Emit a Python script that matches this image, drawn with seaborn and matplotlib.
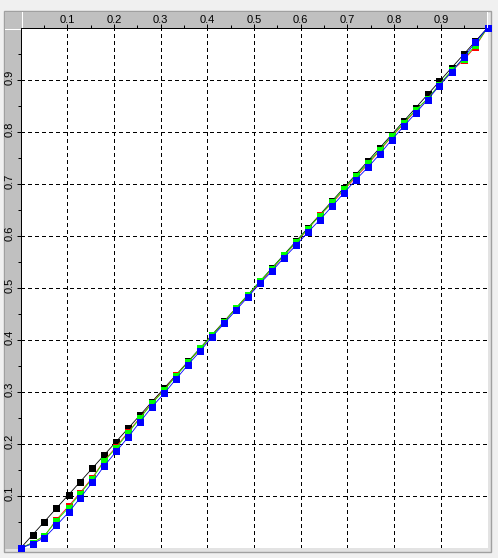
import matplotlib
matplotlib.use("Agg")
import matplotlib.pyplot as plt
import matplotlib.transforms as mtransforms
from matplotlib.patches import Rectangle
from matplotlib.lines import Line2D
import seaborn as sns

# sample positions (40 points, 0..1)
x_vals = [0.000, 0.026, 0.051, 0.077, 0.103, 0.128, 0.154, 0.179, 0.205, 0.231,
          0.256, 0.282, 0.308, 0.333, 0.359, 0.385, 0.410, 0.436, 0.462, 0.487,
          0.513, 0.538, 0.564, 0.590, 0.615, 0.641, 0.667, 0.692, 0.718, 0.744,
          0.769, 0.795, 0.821, 0.846, 0.872, 0.897, 0.923, 0.949, 0.974, 1.000]

# black curve - sits on the diagonal
black_vals = [0.000, 0.026, 0.051, 0.077, 0.103, 0.128, 0.154, 0.179, 0.205, 0.231,
              0.256, 0.282, 0.308, 0.333, 0.359, 0.385, 0.410, 0.436, 0.462, 0.487,
              0.513, 0.538, 0.564, 0.590, 0.615, 0.641, 0.667, 0.692, 0.718, 0.744,
              0.769, 0.795, 0.821, 0.846, 0.872, 0.897, 0.923, 0.949, 0.974, 1.000]

red_vals = [0.000, 0.011, 0.023, 0.055, 0.081, 0.107, 0.136, 0.168, 0.195, 0.224,
            0.251, 0.280, 0.305, 0.332, 0.358, 0.383, 0.409, 0.435, 0.462, 0.485,
            0.511, 0.536, 0.562, 0.587, 0.613, 0.640, 0.663, 0.688, 0.713, 0.738,
            0.764, 0.791, 0.816, 0.841, 0.864, 0.890, 0.917, 0.938, 0.964, 1.000]

green_vals = [0.000, 0.011, 0.024, 0.053, 0.078, 0.105, 0.134, 0.167, 0.193, 0.222,
              0.250, 0.279, 0.304, 0.331, 0.358, 0.384, 0.409, 0.435, 0.462, 0.487,
              0.513, 0.537, 0.563, 0.588, 0.614, 0.639, 0.665, 0.690, 0.716, 0.740,
              0.766, 0.792, 0.818, 0.842, 0.864, 0.891, 0.918, 0.941, 0.966, 1.000]

blue_vals = [0.000, 0.009, 0.020, 0.044, 0.069, 0.097, 0.127, 0.158, 0.186, 0.214,
             0.243, 0.272, 0.298, 0.325, 0.353, 0.379, 0.406, 0.432, 0.458, 0.483,
             0.509, 0.532, 0.558, 0.582, 0.607, 0.631, 0.657, 0.682, 0.708, 0.732,
             0.757, 0.785, 0.811, 0.836, 0.862, 0.889, 0.915, 0.943, 0.972, 1.000]

series = [("black", black_vals), ("#ff0000", red_vals),
          ("#00ff00", green_vals), ("#0000ff", blue_vals)]

tick_vals = [0.1, 0.2, 0.3, 0.4, 0.5, 0.6, 0.7, 0.8, 0.9]
tick_labels = ["0.1", "0.2", "0.3", "0.4", "0.5", "0.6", "0.7", "0.8", "0.9"]
minor_vals = [0.05, 0.15, 0.25, 0.35, 0.45, 0.55, 0.65, 0.75, 0.85, 0.95]

W, H = 498, 558
PX = 0.72  # one pixel in points at dpi 100
FONT = "Liberation Sans"

fig = plt.figure(figsize=(W / 100, H / 100), dpi=100, facecolor="#f0f0f0")


def rect_px(x0, y0, x1, y1, **kw):
    # rectangle given in image pixels (origin top-left)
    return Rectangle((x0 / W, 1 - y1 / H), (x1 - x0) / W, (y1 - y0) / H,
                     transform=fig.transFigure, **kw)


def line_px(x0, y0, x1, y1, color, lw=1):
    return Line2D([x0 / W, x1 / W], [1 - y0 / H, 1 - y1 / H], color=color,
                  linewidth=lw * PX, transform=fig.transFigure, antialiased=False)


# sunken frame and the two grey ruler strips
fig.add_artist(rect_px(3.5, 10.5, 491, 551.5, facecolor="#e3e3e3",
                       edgecolor="#a0a0a0", linewidth=1.4 * PX, zorder=-3))
fig.add_artist(rect_px(5, 12, 487, 27.5, facecolor="#c0c0c0", edgecolor="none", zorder=-2))
fig.add_artist(rect_px(5, 12, 20.5, 548.5, facecolor="#c0c0c0", edgecolor="none", zorder=-2))
fig.add_artist(line_px(21.5, 12, 21.5, 27, "white"))
fig.add_artist(line_px(5, 28.5, 20, 28.5, "white"))
fig.add_artist(line_px(486.5, 12, 486.5, 27, "white"))

# plot area
ax = fig.add_axes([20.5 / W, 1 - 548.3 / H, (487.5 - 20.5) / W, (548.3 - 27.8) / H])
ax.set_facecolor("white")
ax.set_xlim(0, 1)
ax.set_ylim(0, 1)
for side in ["bottom", "right"]:
    ax.spines[side].set_visible(False)
for side in ["top", "left"]:
    ax.spines[side].set_color("black")
    ax.spines[side].set_linewidth(PX)

ax.set_xticks(tick_vals)
ax.set_yticks(tick_vals)
ax.set_xticks(minor_vals, minor=True)
ax.set_yticks(minor_vals, minor=True)
ax.tick_params(axis="x", which="both", top=True, bottom=False, labeltop=False,
               labelbottom=False, direction="out", width=PX, color="black")
ax.tick_params(axis="y", which="both", left=True, right=False, labelleft=False,
               direction="out", width=PX, color="black")
ax.tick_params(which="major", length=4 * PX)
ax.tick_params(which="minor", length=3 * PX)

ax.set_axisbelow(True)
ax.grid(which="major", color="black", linestyle=(0, (3, 3)), linewidth=PX,
        antialiased=False)

# the four curves, black first, blue last (on top):
# thin connecting line, then crisp square markers
for i, (color, vals) in enumerate(series):
    sns.lineplot(x=x_vals, y=vals, color=color, linewidth=0.6, ax=ax,
                 clip_on=False, zorder=3 + 2 * i)
    sns.scatterplot(x=x_vals, y=vals, color=color, marker="s", s=(7 * PX) ** 2,
                    linewidth=0, ax=ax, clip_on=False, zorder=4 + 2 * i,
                    antialiased=False)


def offset(dx, dy):
    return mtransforms.ScaledTranslation(dx / 100, dy / 100, fig.dpi_scale_trans)


# ruler labels
for v, lab in zip(tick_vals, tick_labels):
    ax.text(v, 1, lab, transform=ax.get_xaxis_transform() + offset(0, 4.5),
            ha="center", va="baseline", fontsize=8, family=FONT, color="black")
    ax.text(0, v, lab, transform=ax.get_yaxis_transform() + offset(-11, 2.5),
            ha="center", va="center", rotation=90, fontsize=8, family=FONT,
            color="black")

fig.savefig("out.png", dpi=100, facecolor=fig.get_facecolor())
